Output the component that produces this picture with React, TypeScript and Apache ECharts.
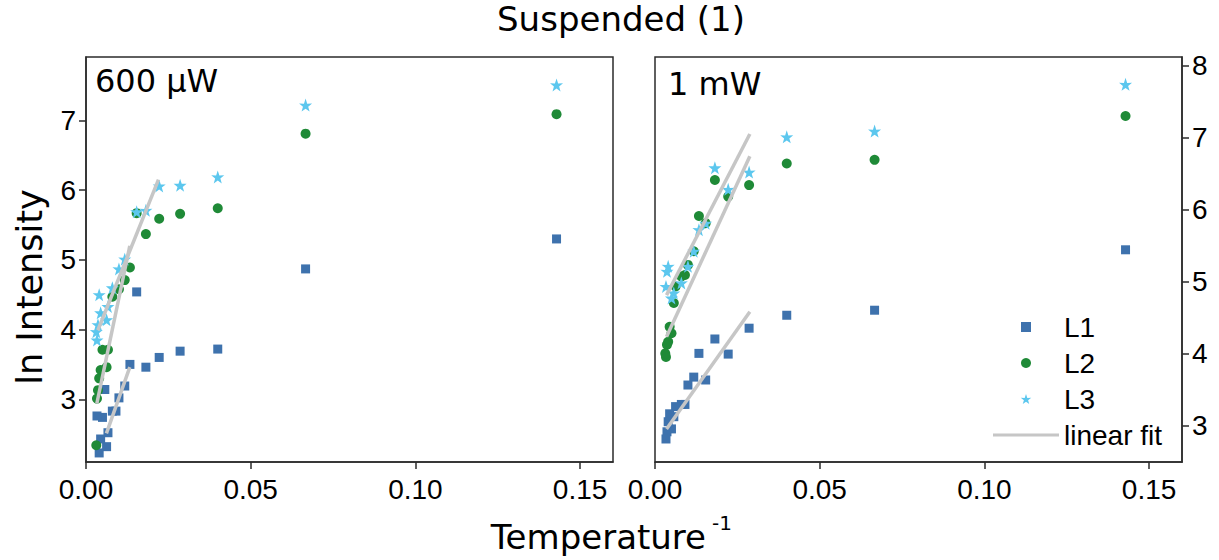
import React, { useEffect, useRef } from "react";
import * as echarts from "echarts";

// Measurement temperatures; the x axis shows their inverse.
const temperatures = [7, 15, 25, 35, 45, 55, 65, 75, 85, 100, 110, 125, 150, 160, 175, 200, 225, 250, 275, 300, 320];

// ln Intensity at 600 µW (null = no measurement)
const uw600_L1 = [5.30, 4.87, 3.72, 3.69, 3.60, 3.46, 4.54, 3.50, 3.19, 3.02, 2.83, 2.83, 2.52, 2.32, 3.14, 2.74, 2.43, 2.23, null, 2.76, null];
const uw600_L2 = [7.09, 6.81, 5.74, 5.66, 5.59, 5.37, 5.67, 4.89, 4.71, 4.58, null, 4.47, 3.71, 3.46, null, 3.71, 3.42, 3.30, 3.13, 3.01, 2.34];
const uw600_L3 = [7.51, 7.22, 6.19, 6.07, 6.06, 5.71, 5.69, null, 5.01, 4.87, null, 4.60, 4.33, 4.14, null, null, 4.24, 4.50, 4.07, 3.85, 3.97];

// ln Intensity at 1 mW
const mw1_L1 = [5.44, 4.60, 4.53, 4.35, 3.99, 4.20, 3.63, 4.00, 3.67, 3.56, 3.29, 3.29, null, 3.26, 3.12, 2.95, 3.16, 3.05, 2.91, 2.81, null];
const mw1_L2 = [7.30, 6.69, 6.64, 6.34, 6.18, 6.41, 5.81, 5.91, 5.42, 5.23, 5.09, 5.07, null, 4.93, 4.70, 4.28, 4.37, 4.16, 4.12, 3.95, 4.00];
const mw1_L3 = [7.74, 7.09, 7.01, 6.52, 6.28, 6.58, 5.81, 5.72, 5.42, 5.21, null, 4.98, null, null, 4.84, 4.77, null, 5.21, 5.14, 4.93, null];

// Linear fits: [inverse temperature, ln Intensity] at both ends
const uw600_fit_L1 = [[0.0062, 2.51], [0.0133, 3.46]];
const uw600_fit_L2 = [[0.0033, 2.94], [0.0133, 5.20]];
const uw600_fit_L3 = [[0.0036, 3.99], [0.0220, 6.15]];
const mw1_fit_L1 = [[0.0035, 2.95], [0.0288, 4.58]];
const mw1_fit_L2 = [[0.0035, 4.23], [0.0288, 6.74]];
const mw1_fit_L3 = [[0.0035, 4.81], [0.0288, 7.05]];

const xTicks = [0, 0.05, 0.1, 0.15];
const yTicksLeft = [3, 4, 5, 6, 7];
const yTicksRight = [3, 4, 5, 6, 7, 8];

const COLORS = { L1: "#3e72ad", L2: "#1f8a37", L3: "#5cc7ee", fit: "#c6c6c6" };
const STAR = "path://M50,0 L61.8,35.1 L97.6,34.5 L69.1,56.7 L79.4,90.5 L50,70 L20.6,90.5 L30.9,56.7 L2.4,34.5 L38.2,35.1 Z";
const SQUARE = "path://M0,0 L10,0 L10,10 L0,10 Z";
const FIT_ICON = "path://M0,0 L66,0 L66,3 L0,3 Z";
const SANS = "DejaVu Sans";
const TICK_FONT = "Liberation Sans";
const AXIS_COLOR = "#2b2b2b";

function pairs(values: (number | null)[]) {
  return temperatures
    .map((t, i) => (values[i] == null ? null : [1 / t, values[i] as number]))
    .filter((p) => p !== null) as number[][];
}

function scatter(name: string, gi: number, values: (number | null)[], symbol: string, size: number, color: string) {
  return {
    name,
    type: "scatter",
    xAxisIndex: gi,
    yAxisIndex: gi,
    data: pairs(values),
    symbol,
    symbolSize: size,
    itemStyle: { color, opacity: 1 },
    z: 2,
  };
}

function fit(gi: number, data: number[][]) {
  return {
    name: "linear fit",
    type: "line",
    xAxisIndex: gi,
    yAxisIndex: gi,
    data,
    symbol: "none",
    showSymbol: false,
    lineStyle: { color: COLORS.fit, width: 3.5 },
    itemStyle: { color: COLORS.fit },
    z: 3,
  };
}

function xAxis(gi: number) {
  return {
    gridIndex: gi,
    type: "value",
    min: 0,
    max: 0.16,
    splitLine: { show: false },
    axisLine: { show: true, onZero: false, lineStyle: { color: AXIS_COLOR, width: 1.5 } },
    axisTick: { show: true, length: 7, customValues: xTicks, lineStyle: { color: AXIS_COLOR, width: 1.5 } },
    axisLabel: {
      customValues: xTicks,
      formatter: (v: number) => v.toFixed(2),
      fontSize: 28,
      fontFamily: TICK_FONT,
      color: "#000",
      margin: 13,
    },
  };
}

function yAxis(gi: number, min: number, max: number, ticks: number[], position: string) {
  return {
    gridIndex: gi,
    type: "value",
    min,
    max,
    position,
    splitLine: { show: false },
    axisLine: { show: true, onZero: false, lineStyle: { color: AXIS_COLOR, width: 1.5 } },
    axisTick: { show: true, length: 7, customValues: ticks, lineStyle: { color: AXIS_COLOR, width: 1.5 } },
    axisLabel: {
      customValues: ticks,
      fontSize: 28,
      fontFamily: TICK_FONT,
      color: "#000",
      margin: 10,
    },
  };
}

export default function App() {
  const ref = useRef<HTMLDivElement>(null);

  useEffect(() => {
    if (!ref.current) return;
    const chart = echarts.init(ref.current, null, { renderer: "svg" });
    const gridBox = { top: 57, width: 527, height: 405, show: true, borderColor: AXIS_COLOR, borderWidth: 1.5 };
    chart.setOption({
      animation: false,
      backgroundColor: "#ffffff",
      textStyle: { fontFamily: TICK_FONT },
      grid: [
        { left: 86, ...gridBox },
        { left: 655, ...gridBox },
      ],
      xAxis: [xAxis(0), xAxis(1)],
      yAxis: [yAxis(0, 2.1, 7.91, yTicksLeft, "left"), yAxis(1, 2.49, 8.12, yTicksRight, "right")],
      legend: {
        orient: "vertical",
        left: 993,
        top: 313,
        padding: 0,
        itemWidth: 66,
        itemHeight: 10,
        itemGap: 8,
        textStyle: { fontSize: 28, fontFamily: TICK_FONT, color: "#000" },
        data: [
          { name: "L1", icon: SQUARE },
          { name: "L2", icon: "circle" },
          { name: "L3", icon: STAR },
          { name: "linear fit", icon: FIT_ICON },
        ],
      },
      series: [
        scatter("L1", 0, uw600_L1, "rect", 9, COLORS.L1),
        scatter("L2", 0, uw600_L2, "circle", 10, COLORS.L2),
        scatter("L3", 0, uw600_L3, STAR, 13, COLORS.L3),
        fit(0, uw600_fit_L1),
        fit(0, uw600_fit_L2),
        fit(0, uw600_fit_L3),
        scatter("L1", 1, mw1_L1, "rect", 9, COLORS.L1),
        scatter("L2", 1, mw1_L2, "circle", 10, COLORS.L2),
        scatter("L3", 1, mw1_L3, STAR, 13, COLORS.L3),
        fit(1, mw1_fit_L1),
        fit(1, mw1_fit_L2),
        fit(1, mw1_fit_L3),
      ],
      graphic: [
        {
          type: "text",
          x: 621,
          y: 19,
          style: { text: "Suspended (1)", font: `34px '${SANS}'`, fill: "#000", align: "center", verticalAlign: "middle" },
        },
        {
          type: "text",
          x: 30,
          y: 287,
          rotation: Math.PI / 2,
          style: { text: "ln Intensity", font: `35px '${SANS}'`, fill: "#000", align: "center", verticalAlign: "middle" },
        },
        {
          type: "text",
          x: 706,
          y: 537,
          style: { text: "Temperature", font: `34px '${SANS}'`, fill: "#000", align: "right", verticalAlign: "middle" },
        },
        {
          type: "text",
          x: 712,
          y: 523,
          style: { text: "-1", font: `20px '${SANS}'`, fill: "#000", align: "left", verticalAlign: "middle" },
        },
        {
          type: "text",
          x: 95,
          y: 81,
          style: { text: "600 µW", font: `32px '${SANS}'`, fill: "#000", align: "left", verticalAlign: "middle" },
        },
        {
          type: "text",
          x: 668,
          y: 84,
          style: { text: "1 mW", font: `32px '${SANS}'`, fill: "#000", align: "left", verticalAlign: "middle" },
        },
      ],
    });
    return () => chart.dispose();
  }, []);

  return (
    <div
      ref={ref}
      style={{ position: "fixed", left: 0, top: 0, width: 1219, height: 560, background: "#fff" }}
    />
  );
}
